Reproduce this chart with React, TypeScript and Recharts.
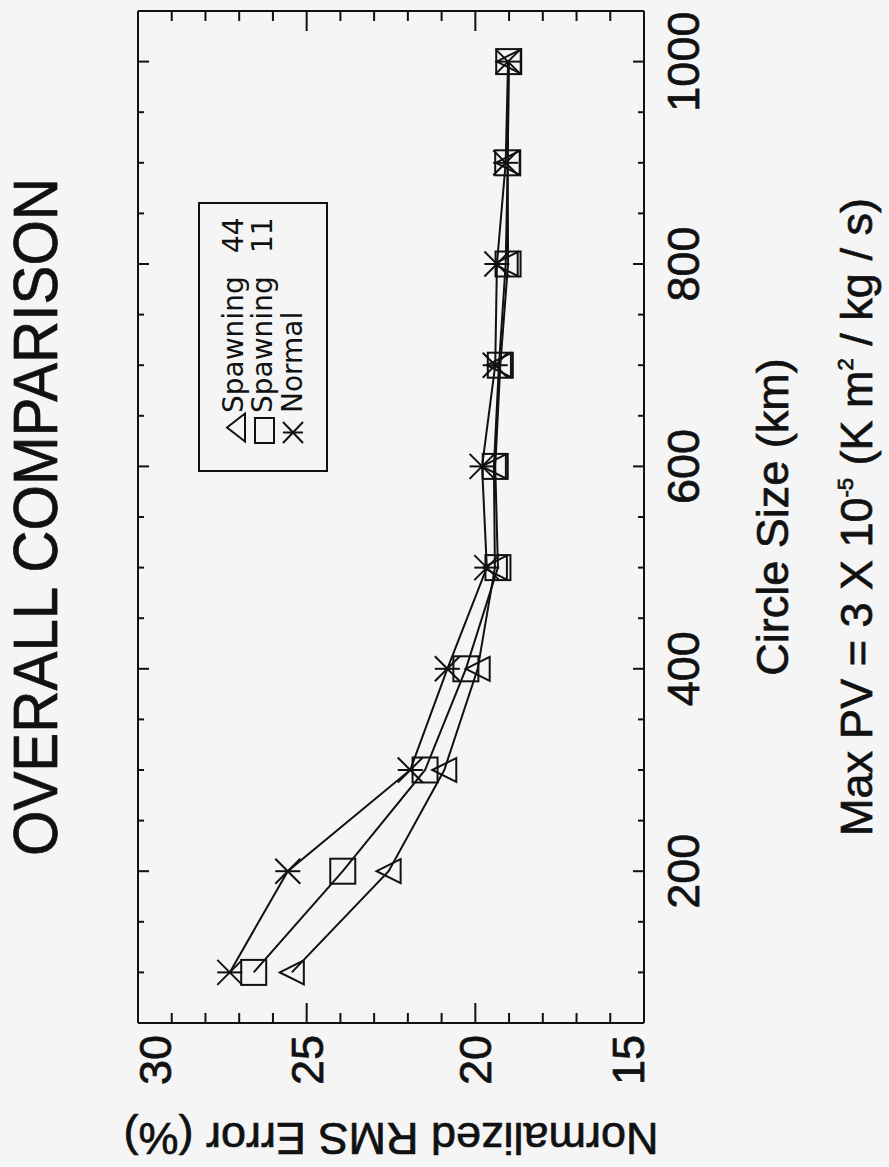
import React from 'react';
import { LineChart, Line, XAxis, YAxis, Legend } from 'recharts';

// Circle size (km) and normalized RMS error (%) for each run
const circleSizes = [100, 200, 300, 400, 500, 600, 700, 800, 900, 1000];
const spawning44 = [25.44, 22.57, 20.92, 19.93, 19.42, 19.45, 19.3, 19.1, 19.04, 19.01];
const spawning11 = [26.57, 23.93, 21.49, 20.28, 19.33, 19.41, 19.26, 19.03, 19.04, 19.01];
const normal = [27.28, 25.56, 21.93, 20.83, 19.66, 19.8, 19.41, 19.36, 19.1, 19.03];

const sizeTicks = [50, 100, 150, 200, 250, 300, 350, 400, 450, 500, 550, 600, 650, 700, 750, 800, 850, 900, 950, 1000, 1050];
const sizeLabels = [200, 400, 600, 800, 1000];
const errorTicks = [15, 16, 17, 18, 19, 20, 21, 22, 23, 24, 25, 26, 27, 28, 29, 30];
const errorLabels = [15, 20, 25, 30];

const seriesKeys = ['s44', 's11', 'normal'];

const data = circleSizes.map((size, i) => ({
  size,
  s44: spawning44[i],
  s11: spawning11[i],
  normal: normal[i],
}));

const INK = '#111';
const PAPER = '#f5f5f5';
const FONT = '"Liberation Sans", Arial, Helvetica, sans-serif';
const LEGEND_FONT = '"DejaVu Sans", "Liberation Sans", sans-serif';

const CHART_W = 1167;
const CHART_H = 889;
const TOP_AXIS_H = 1;
const MARGIN = { top: 138 - TOP_AXIS_H, right: 10, left: 0, bottom: 0 };
const X_AXIS_H = 245;
const Y_AXIS_W = 144;
const RIGHT_AXIS_W = 1;
const PLOT_TOP = MARGIN.top + TOP_AXIS_H;
const PLOT_BOTTOM = CHART_H - MARGIN.bottom - X_AXIS_H;
const SIZE_DOMAIN: [number, number] = [50, 1050];
const ERROR_DOMAIN: [number, number] = [15, 30];

// heavier print-like lettering
const textInk = { fill: INK, stroke: INK, strokeWidth: 0.7 };

// ---- markers ----
const TriangleMark = ({ cx, cy, w = 12, h = 12 }: any) => (
  <polygon
    points={`${cx},${cy - h} ${cx + w},${cy + h} ${cx - w},${cy + h}`}
    fill="none"
    stroke={INK}
    strokeWidth={2}
  />
);
const SquareMark = ({ cx, cy, w = 12.5, h = 12.5 }: any) => (
  <rect x={cx - w} y={cy - h} width={2 * w} height={2 * h} fill="none" stroke={INK} strokeWidth={2} />
);
const AsteriskMark = ({ cx, cy, w = 12.5, h = 12.5 }: any) => (
  <g stroke={INK} strokeWidth={2}>
    <line x1={cx} y1={cy - h} x2={cx} y2={cy + h} />
    <line x1={cx - w} y1={cy - h} x2={cx + w} y2={cy + h} />
    <line x1={cx - w} y1={cy + h} x2={cx + w} y2={cy - h} />
  </g>
);

const markFor: Record<string, any> = { s44: TriangleMark, s11: SquareMark, normal: AsteriskMark };

const makeDot = (key: string) => (props: any) => {
  const Mark = markFor[key];
  if (props.cx == null || props.cy == null) return <g key={`${key}-${props.index}`} />;
  return (
    <g key={`${key}-${props.index}`}>
      <Mark cx={props.cx} cy={props.cy} />
    </g>
  );
};

// ---- axis ticks (drawn inward, labels outside) ----
const SizeTick = (side: 'bottom' | 'top') => (props: any) => {
  const { x, y, payload } = props;
  const v = payload.value;
  const labelled = sizeLabels.includes(v);
  const len = labelled ? 11 : 6;
  const dir = side === 'bottom' ? -1 : 1;
  return (
    <g>
      <line x1={x} y1={y} x2={x} y2={y + dir * len} stroke={INK} strokeWidth={2} />
      {side === 'bottom' && labelled && (
        <text x={x} y={y + 55} textAnchor="middle" fontSize={45} fontFamily={FONT} {...textInk}>
          {v}
        </text>
      )}
    </g>
  );
};

const ErrorTick = (side: 'left' | 'right') => (props: any) => {
  const { x, y, payload } = props;
  const v = payload.value;
  const labelled = errorLabels.includes(v);
  const len = labelled ? 20 : 10;
  const dir = side === 'left' ? 1 : -1;
  const half = 16.5;
  const cy = Math.min(Math.max(y, PLOT_TOP + half), PLOT_BOTTOM - half);
  return (
    <g>
      <line x1={x} y1={y} x2={x + dir * len} y2={y} stroke={INK} strokeWidth={2} />
      {side === 'left' && labelled && (
        <text x={x - 12} y={cy + 16} textAnchor="end" fontSize={45} fontFamily={FONT} {...textInk}>
          {v}
        </text>
      )}
    </g>
  );
};

// ---- titles: chart title above the plot, axis titles below ----
const SizeTitles = (props: any) => {
  const vb = props.viewBox || { x: Y_AXIS_W, y: PLOT_BOTTOM, width: 1012, height: X_AXIS_H };
  const cx = vb.x + vb.width / 2;
  return (
    <g fontFamily={FONT} fontSize={45} {...textInk}>
      <text
        x={cx}
        y={PLOT_TOP - 81}
        textAnchor="middle"
        fontSize={63}
        textLength={678}
        lengthAdjust="spacingAndGlyphs"
      >
        OVERALL COMPARISON
      </text>
      <text x={cx} y={vb.y + 144} textAnchor="middle">
        Circle Size (km)
      </text>
      <text x={cx} y={vb.y + 228} textAnchor="middle">
        <tspan>Max</tspan>
        <tspan dx={12}>PV = 3 X 10</tspan>
        <tspan dy={-19} fontSize={22}>-5</tspan>
        <tspan dy={19}> (K m</tspan>
        <tspan dy={-19} fontSize={22}>2</tspan>
        <tspan dy={19}> / kg / s)</tspan>
      </text>
    </g>
  );
};

const ErrorTitle = (props: any) => {
  const vb = props.viewBox || { x: 0, y: PLOT_TOP, width: Y_AXIS_W, height: PLOT_BOTTOM - PLOT_TOP };
  const tx = vb.x + 44;
  const ty = vb.y + vb.height / 2;
  return (
    <text
      x={tx}
      y={ty}
      transform={`rotate(-90 ${tx} ${ty})`}
      textAnchor="middle"
      fontSize={45}
      fontFamily={FONT}
      {...textInk}
    >
      Normalized RMS Error (%)
    </text>
  );
};

// ---- legend ----
const legendGlyphs: Record<string, { cx: number; cy: number; w: number; h: number }> = {
  s44: { cx: 44.5, cy: 38, w: 14, h: 9 },
  s11: { cx: 41.5, cy: 66.5, w: 12.5, h: 9.5 },
  normal: { cx: 39.5, cy: 95, w: 10.5, h: 10 },
};
const legendBaselines = [45, 74, 103.5];

const renderLegend = (props: any) => {
  const payload = [...(props.payload || [])].sort(
    (a: any, b: any) => seriesKeys.indexOf(a.dataKey) - seriesKeys.indexOf(b.dataKey)
  );
  return (
    <svg width={270} height={130} style={{ display: 'block' }}>
      <rect x={1} y={1} width={268} height={128} fill="none" stroke={INK} strokeWidth={2} />
      {payload.map((entry: any) => {
        const key = entry.dataKey as string;
        const row = seriesKeys.indexOf(key);
        const Mark = markFor[key];
        const g = legendGlyphs[key];
        const parts = String(entry.value).split(' ');
        return (
          <g key={key}>
            <Mark cx={g.cx} cy={g.cy} w={g.w} h={g.h} />
            <text x={59} y={legendBaselines[row]} fontSize={28} fontFamily={LEGEND_FONT} fill={INK}>
              {parts[0]}
            </text>
            {parts[1] && (
              <text x={219} y={legendBaselines[row]} fontSize={28} fontFamily={LEGEND_FONT} fill={INK}>
                {parts[1]}
              </text>
            )}
          </g>
        );
      })}
    </svg>
  );
};

const axisLine = { stroke: INK, strokeWidth: 2 };

export default function App() {
  return (
    <div
      style={{
        position: 'absolute',
        left: 0,
        top: 0,
        width: CHART_H,
        height: CHART_W,
        overflow: 'hidden',
        background: PAPER,
      }}
    >
      <div
        style={{
          position: 'absolute',
          left: 0,
          top: 0,
          width: CHART_W,
          height: CHART_H,
          transformOrigin: '0 0',
          transform: `translate(0px, ${CHART_W}px) rotate(-90deg)`,
        }}
      >
        <LineChart width={CHART_W} height={CHART_H} data={data} margin={MARGIN}>
          <XAxis
            xAxisId="bottom"
            dataKey="size"
            type="number"
            orientation="bottom"
            domain={SIZE_DOMAIN}
            ticks={sizeTicks}
            interval={0}
            height={X_AXIS_H}
            tickSize={0}
            tickMargin={0}
            tickLine={false}
            axisLine={axisLine}
            tick={SizeTick('bottom')}
            label={{ content: SizeTitles }}
          />
          <XAxis
            xAxisId="top"
            dataKey="size"
            type="number"
            orientation="top"
            domain={SIZE_DOMAIN}
            ticks={sizeTicks}
            interval={0}
            height={TOP_AXIS_H}
            tickSize={0}
            tickMargin={0}
            tickLine={false}
            axisLine={axisLine}
            tick={SizeTick('top')}
          />
          <YAxis
            yAxisId="left"
            type="number"
            orientation="left"
            domain={ERROR_DOMAIN}
            ticks={errorTicks}
            interval={0}
            width={Y_AXIS_W}
            tickSize={0}
            tickMargin={0}
            tickLine={false}
            axisLine={axisLine}
            tick={ErrorTick('left')}
            label={{ content: ErrorTitle }}
          />
          <YAxis
            yAxisId="right"
            type="number"
            orientation="right"
            domain={ERROR_DOMAIN}
            ticks={errorTicks}
            interval={0}
            width={RIGHT_AXIS_W}
            tickSize={0}
            tickMargin={0}
            tickLine={false}
            axisLine={axisLine}
            tick={ErrorTick('right')}
          />
          <Legend
            layout="vertical"
            align="center"
            verticalAlign="middle"
            content={renderLegend}
            wrapperStyle={{ left: 695, top: 198, width: 270, height: 130, margin: 0, padding: 0 }}
          />
          <Line
            xAxisId="bottom"
            yAxisId="left"
            dataKey="s44"
            name="Spawning 44"
            type="linear"
            stroke={INK}
            strokeWidth={2}
            dot={makeDot('s44')}
            activeDot={false}
            isAnimationActive={false}
          />
          <Line
            xAxisId="bottom"
            yAxisId="left"
            dataKey="s11"
            name="Spawning 11"
            type="linear"
            stroke={INK}
            strokeWidth={2}
            dot={makeDot('s11')}
            activeDot={false}
            isAnimationActive={false}
          />
          <Line
            xAxisId="top"
            yAxisId="right"
            dataKey="normal"
            name="Normal"
            type="linear"
            stroke={INK}
            strokeWidth={2}
            dot={makeDot('normal')}
            activeDot={false}
            isAnimationActive={false}
          />
        </LineChart>
      </div>
    </div>
  );
}
